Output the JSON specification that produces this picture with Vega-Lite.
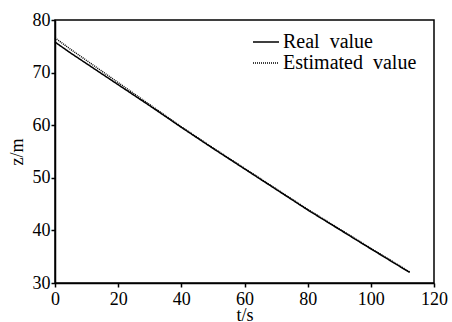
{
  "$schema": "https://vega.github.io/schema/vega-lite/v6.json",
  "width": 379,
  "height": 263,
  "autosize": "none",
  "padding": {"left": 55, "top": 20, "right": 18, "bottom": 39},
  "background": "white",
  "config": {
    "view": {"stroke": "black", "strokeWidth": 1.5},
    "font": "Liberation Serif"
  },
  "data": {
    "values": [
      {"series": "Real value", "t": 0, "z": 75.8},
      {"series": "Real value", "t": 5, "z": 73.7},
      {"series": "Real value", "t": 10, "z": 71.7},
      {"series": "Real value", "t": 20, "z": 67.7},
      {"series": "Real value", "t": 30, "z": 63.7},
      {"series": "Real value", "t": 40, "z": 59.6},
      {"series": "Real value", "t": 50, "z": 55.6},
      {"series": "Real value", "t": 60, "z": 51.7},
      {"series": "Real value", "t": 70, "z": 47.8},
      {"series": "Real value", "t": 80, "z": 43.9},
      {"series": "Real value", "t": 90, "z": 40.2},
      {"series": "Real value", "t": 100, "z": 36.5},
      {"series": "Real value", "t": 112.3, "z": 32.0},
      {"series": "Estimated value", "t": 0, "z": 76.6},
      {"series": "Estimated value", "t": 5, "z": 74.4},
      {"series": "Estimated value", "t": 10, "z": 72.3},
      {"series": "Estimated value", "t": 20, "z": 68.1},
      {"series": "Estimated value", "t": 30, "z": 63.9},
      {"series": "Estimated value", "t": 40, "z": 59.7},
      {"series": "Estimated value", "t": 50, "z": 55.7},
      {"series": "Estimated value", "t": 60, "z": 51.8},
      {"series": "Estimated value", "t": 70, "z": 47.9},
      {"series": "Estimated value", "t": 80, "z": 44.0},
      {"series": "Estimated value", "t": 90, "z": 40.3},
      {"series": "Estimated value", "t": 100, "z": 36.6},
      {"series": "Estimated value", "t": 112.3, "z": 32.1}
    ]
  },
  "mark": {"type": "line", "strokeWidth": 1.5, "color": "black"},
  "encoding": {
    "x": {
      "field": "t",
      "type": "quantitative",
      "scale": {"domain": [0, 120], "nice": false},
      "axis": {
        "title": "t/s",
        "tickCount": 6,
        "grid": false,
        "tickSize": 4,
        "tickColor": "black",
        "tickWidth": 1.5,
        "domainColor": "black",
        "domainWidth": 1.5,
        "labelFontSize": 18,
        "labelColor": "black",
        "labelPadding": 3,
        "labelFlush": false,
        "titleFontSize": 18,
        "titleFontWeight": "normal",
        "titleColor": "black",
        "titlePadding": -2
      }
    },
    "y": {
      "field": "z",
      "type": "quantitative",
      "scale": {"domain": [30, 80], "nice": false, "zero": false},
      "axis": {
        "title": "z/m",
        "values": [30, 40, 50, 60, 70, 80],
        "grid": false,
        "tickSize": 4,
        "tickColor": "black",
        "tickWidth": 1.5,
        "domainColor": "black",
        "domainWidth": 1.5,
        "labelFontSize": 18,
        "labelColor": "black",
        "labelPadding": 1,
        "labelFlush": false,
        "titleFontSize": 18,
        "titleFontWeight": "normal",
        "titleColor": "black",
        "titlePadding": 6
      }
    },
    "strokeDash": {
      "field": "series",
      "type": "nominal",
      "scale": {"domain": ["Real value", "Estimated value"], "range": [[1, 0], [1, 1]]},
      "legend": {
        "title": null,
        "orient": "none",
        "legendX": 200,
        "legendY": 11,
        "symbolType": "M-1.3,0H1.3",
        "symbolSize": 400,
        "symbolStrokeWidth": 1.5,
        "symbolStrokeColor": "black",
        "labelFontSize": 20,
        "labelColor": "black",
        "labelOffset": 6,
        "labelExpr": "replace(datum.label, ' ', '\u00a0\u00a0')",
        "rowPadding": 0,
        "padding": 0,
        "labelLimit": 300
      }
    }
  }
}
